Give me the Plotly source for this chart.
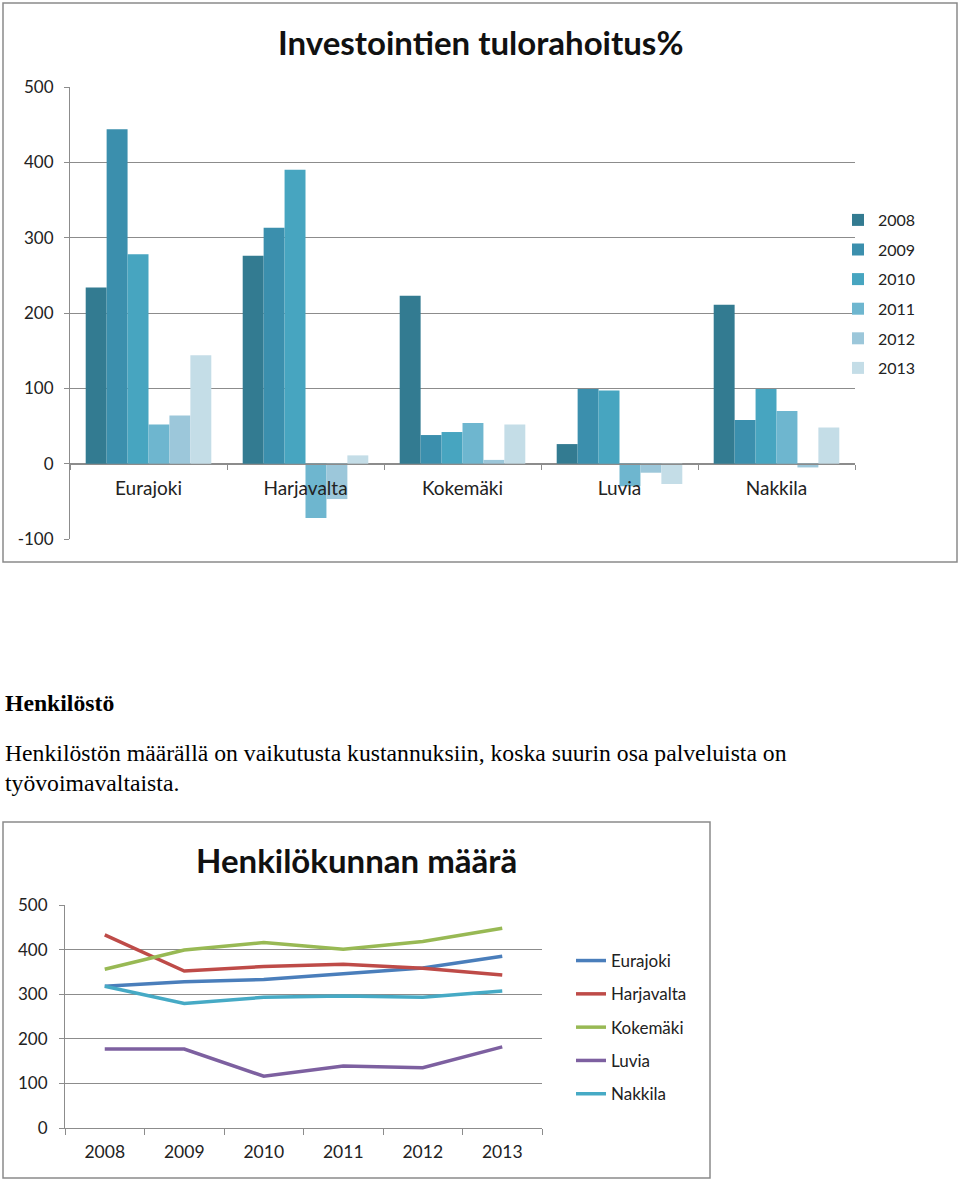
import plotly.graph_objects as go

# --- data -------------------------------------------------------------
kunnat = ["Eurajoki", "Harjavalta", "Kokemäki", "Luvia", "Nakkila"]
vuodet = ["2008", "2009", "2010", "2011", "2012", "2013"]

# tulorahoitus% per vuosi (one list per year, order as kunnat)
tulo_2008 = [234, 276, 223, 26, 211]
tulo_2009 = [444, 313, 38, 99, 58]
tulo_2010 = [278, 390, 42, 97, 99]
tulo_2011 = [52, -72, 54, -30, 70]
tulo_2012 = [64, -47, 5, -12, -5]
tulo_2013 = [144, 11, 52, -27, 48]

# y-axis ticks of the bar chart (Excel prints a plain hyphen)
tulo_ticks = [-100, 0, 100, 200, 300, 400, 500]
tulo_ticktext = ["-100", "0", "100", "200", "300", "400", "500"]

# henkilökunnan määrä per kunta (order as vuodet)
henk_eurajoki = [318, 328, 333, 346, 359, 385]
henk_harjavalta = [433, 352, 362, 367, 358, 343]
henk_kokemaki = [356, 399, 416, 401, 418, 448]
henk_luvia = [177, 177, 116, 139, 135, 182]
henk_nakkila = [318, 279, 293, 296, 293, 307]

bar_colors = ["#337b91", "#3b8fad", "#47a5c0", "#6eb6cf", "#9cc7da", "#c4dde7"]
line_colors = ["#4a7ebb", "#be4b48", "#98b954", "#7d60a0", "#46aac5"]

W, H = 960, 1180
FONT = "Lato"
GRID = "#8c8c8c"


def fx(px):
    return px / W


def fy(py):
    return 1 - py / H


fig = go.Figure()

# bar chart
tulo = [tulo_2008, tulo_2009, tulo_2010, tulo_2011, tulo_2012, tulo_2013]
for i, (v, vals) in enumerate(zip(vuodet, tulo)):
    fig.add_trace(go.Bar(x=kunnat, y=vals, name=v, marker_color=bar_colors[i],
                         marker_line_width=0, xaxis="x", yaxis="y",
                         legend="legend", legendgroup="b" + v))

# line chart
henk = [henk_eurajoki, henk_harjavalta, henk_kokemaki, henk_luvia, henk_nakkila]
for i, (k, vals) in enumerate(zip(kunnat, henk)):
    fig.add_trace(go.Scatter(x=vuodet, y=vals, name=k, mode="lines",
                             line=dict(color=line_colors[i], width=3.5),
                             xaxis="x2", yaxis="y2",
                             legend="legend2", legendgroup="l" + k))

# plot areas
top_dom = [fy(539), fy(87)]
top_range = [-100, 500]
zero_pos = top_dom[0] + (0 - top_range[0]) / (top_range[1] - top_range[0]) * (top_dom[1] - top_dom[0])
bot_dom = [fy(1128), fy(905)]

ink = "#222222"

fig.update_layout(
    width=W, height=H,
    margin=dict(l=0, r=0, t=0, b=0, pad=0, autoexpand=False),
    paper_bgcolor="white", plot_bgcolor="white",
    barmode="group", bargap=0.2, bargroupgap=0,
    xaxis=dict(domain=[fx(70), fx(855)], anchor="free", position=zero_pos,
               type="category", tickson="boundaries", ticks="outside", ticklen=5,
               tickcolor=GRID, showline=True, linecolor=GRID, showgrid=False,
               tickfont=dict(family=FONT, size=19, color=ink),
               ticklabelstandoff=8, automargin=False),
    yaxis=dict(domain=top_dom, anchor="x", range=top_range,
               tickvals=tulo_ticks, ticktext=tulo_ticktext,
               showgrid=True, gridcolor=GRID, gridwidth=1, zeroline=False,
               ticks="outside", ticklen=5, tickcolor=GRID,
               showline=True, linecolor=GRID,
               tickfont=dict(family=FONT, size=17, color=ink),
               ticklabelstandoff=7, automargin=False),
    xaxis2=dict(domain=[fx(65), fx(542)], anchor="y2", type="category",
                range=[-0.5, len(vuodet) - 0.5],
                tickson="boundaries", ticks="outside", ticklen=6, tickcolor=GRID,
                showline=True, linecolor=GRID, showgrid=False,
                tickfont=dict(family=FONT, size=17.5, color=ink),
                ticklabelstandoff=8, automargin=False),
    yaxis2=dict(domain=bot_dom, anchor="x2", range=[0, 500], dtick=100,
                showgrid=True, gridcolor=GRID, gridwidth=1, zeroline=False,
                ticks="outside", ticklen=5, tickcolor=GRID,
                showline=True, linecolor=GRID,
                tickfont=dict(family=FONT, size=17, color=ink),
                ticklabelstandoff=8, automargin=False),
    legend=dict(x=fx(838), y=fy(203), xanchor="left", yanchor="top",
                font=dict(family=FONT, size=16, color=ink),
                tracegroupgap=5.8, itemwidth=30, bgcolor="rgba(0,0,0,0)"),
    legend2=dict(x=fx(571), y=fy(943), xanchor="left", yanchor="top",
                 font=dict(family=FONT, size=17, color=ink),
                 tracegroupgap=8.2, itemwidth=30, bgcolor="rgba(0,0,0,0)"),
    showlegend=True,
)

# chart borders
fig.add_shape(type="rect", xref="paper", yref="paper",
              x0=fx(3), x1=fx(957), y0=fy(562), y1=fy(3),
              line=dict(color="#8a8a8a", width=1.5))
fig.add_shape(type="rect", xref="paper", yref="paper",
              x0=fx(3), x1=fx(710), y0=fy(1178), y1=fy(822),
              line=dict(color="#8a8a8a", width=1.5))

# chart titles
fig.add_annotation(text="<b>Investointien tulorahoitus%</b>", xref="paper", yref="paper",
                   x=fx(480), y=fy(42), xanchor="center", yanchor="middle", showarrow=False,
                   font=dict(family=FONT, size=33, color="#111111"))
fig.add_annotation(text="<b>Henkilökunnan määrä</b>", xref="paper", yref="paper",
                   x=fx(356), y=fy(860), xanchor="center", yanchor="middle", showarrow=False,
                   font=dict(family=FONT, size=33, color="#111111"))

# document text between the charts
serif = "Liberation Serif"
fig.add_annotation(text="<b>Henkilöstö</b>", xref="paper", yref="paper",
                   x=fx(3), y=fy(703), xanchor="left", yanchor="middle", showarrow=False,
                   font=dict(family=serif, size=23.7, color="black"))
fig.add_annotation(text="Henkilöstön määrällä on vaikutusta kustannuksiin, koska suurin osa palveluista on",
                   xref="paper", yref="paper", x=fx(3), y=fy(753),
                   xanchor="left", yanchor="middle", showarrow=False,
                   font=dict(family=serif, size=23.7, color="black"))
fig.add_annotation(text="työvoimavaltaista.", xref="paper", yref="paper",
                   x=fx(3), y=fy(783), xanchor="left", yanchor="middle", showarrow=False,
                   font=dict(family=serif, size=23.7, color="black"))

# page body has a default 8px margin; drop it so the figure sits at 0,0
fig.write_html("out.html",
               config={"displayModeBar": False},
               post_script="document.body.style.margin='0';"
                           "document.body.style.overflow='hidden';")
